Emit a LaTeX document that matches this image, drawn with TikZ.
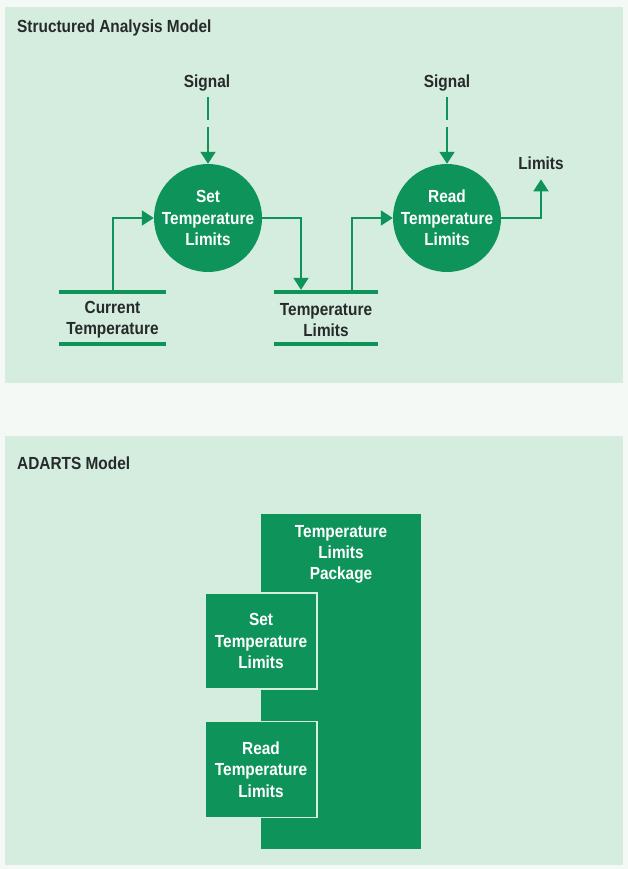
\documentclass[tikz,border=0pt]{standalone}
\usepackage{fontspec}
\setmainfont{Liberation Sans}[FakeStretch=0.88]
\usetikzlibrary{arrows.meta}
\definecolor{pagebg}{RGB}{244,249,245}
\definecolor{panel}{RGB}{212,237,223}
\definecolor{dgreen}{RGB}{14,148,90}
\definecolor{ink}{RGB}{38,42,42}
\begin{document}
\begin{tikzpicture}[x=1pt,y=-1pt,
  txt/.style={font=\fontsize{17.5}{21.3}\selectfont\bfseries, text=ink, align=center, inner sep=0pt},
  wtxt/.style={txt, text=white},
  proc/.style={circle, fill=dgreen, minimum size=108pt, inner sep=0pt, wtxt},
  module/.style={rectangle, fill=dgreen, draw=panel, line width=1.5pt, minimum width=112pt, minimum height=96pt, inner sep=0pt, wtxt},
  store/.style={rectangle, minimum height=52pt, inner sep=0pt},
  storeline/.style={draw=dgreen, line width=4pt},
  flow/.style={draw=dgreen, line width=2pt, -{Triangle[length=12pt,width=15pt]}},
  sigflow/.style={flow, dash pattern=on 23pt off 7pt on 200pt off 0pt}
]
\useasboundingbox (0,0) rectangle (628,869);
\fill[pagebg] (0,0) rectangle (628,869);
\fill[panel] (5,7) rectangle (623,383);
\fill[panel] (5,436) rectangle (623,865);

% ---------- Structured Analysis Model ----------
\node[txt, anchor=base west] (title1) at (17,33) {Structured Analysis Model};

\node[txt, anchor=base] (sig1) at (207,88) {Signal};
\node[txt, anchor=base] (sig2) at (447,88) {Signal};
\node[txt, anchor=base] (lim) at (541,170) {Limits};

\node[proc] (set) at (208,218) {Set\\Temperature\\Limits};
\node[proc] (read) at (447,218) {Read\\Temperature\\Limits};

\node[store, minimum width=107pt] (store1) at (112.5,318) {};
\node[txt] (store1txt) at ([yshift=-2pt]store1.center) {Current\\Temperature};
\draw[storeline] (store1.north west) -- (store1.north east);
\draw[storeline] (store1.south west) -- (store1.south east);

\node[store, minimum width=104pt] (store2) at (326,318) {};
\node[txt] (store2txt) at ([yshift=-2pt]store2.center) {Temperature\\Limits};
\draw[storeline] (store2.north west) -- (store2.north east);
\draw[storeline] (store2.south west) -- (store2.south east);

\draw[sigflow, shorten <=5pt] (set.north |- sig1.south) -- (set.north);
\draw[sigflow, shorten <=5pt] (read.north |- sig2.south) -- (read.north);
\draw[flow] (store1.north) |- (set.west);
\draw[flow, shorten >=2pt] (set.east) -| ([xshift=-25pt]store2.north);
\draw[flow] ([xshift=26pt]store2.north) |- (read.west);
\draw[flow, shorten >=9pt] (read.east) -| (lim.south);

% ---------- ADARTS Model ----------
\node[txt, anchor=base west] (title2) at (17,469.3) {ADARTS Model};

\node[rectangle, fill=dgreen, minimum width=160pt, minimum height=335pt, inner sep=0pt] (pkg) at (341,681.5) {};
\node[wtxt] (pkgtxt) at (341,554.5) {Temperature\\Limits\\Package};
\node[module] (setbox) at (261,641) {Set\\Temperature\\Limits};
\node[module] (readbox) at (261,769.5) {Read\\Temperature\\Limits};
\end{tikzpicture}
\end{document}
